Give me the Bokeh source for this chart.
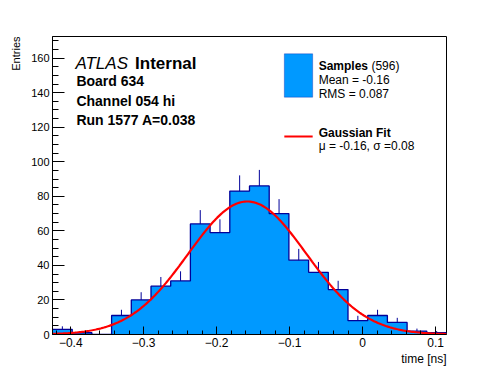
import math
import numpy as np
from bokeh.plotting import figure
from bokeh.models import (Label, BoxAnnotation, FixedTicker, CustomJSTickFormatter,
                          ColumnDataSource, Range1d, Title)
from bokeh.embed import file_html
from bokeh.resources import INLINE

# ---------------- data ----------------
x_low, x_high = -0.425, 0.115
n_bins = 20
counts = [3, 1, 0, 11, 20, 28, 31, 64, 59, 83, 86, 70, 43, 36, 26, 8, 11, 7, 2, 1]
fit_amplitude = 77.0
fit_mu = -0.158
fit_sigma = 0.081
x_ticks = [-0.4, -0.3, -0.2, -0.1, 0.0, 0.1]
y_ticks = [0, 20, 40, 60, 80, 100, 120, 140, 160]
n_entries = 596
mean_txt = "Mean = -0.16"
rms_txt = "RMS = 0.087"
fit_txt = "\u03bc = -0.16, \u03c3 =0.08"
header_lines = ["Board 634", "Channel 054 hi", "Run 1577 A=0.038"]
x_title = "time [ns]"
y_title = "Entries"

# ---------------- derived ----------------
width_bin = (x_high - x_low) / n_bins
edges = [x_low + width_bin * i for i in range(n_bins + 1)]
lefts = edges[:-1]
rights = edges[1:]
centers = [(a + b) / 2 for a, b in zip(lefts, rights)]
err_top = [c + math.sqrt(c) for c in counts]
step_y = counts + [counts[-1]]

xs_fit = np.linspace(x_low, x_high, 300)
ys_fit = fit_amplitude * np.exp(-0.5 * ((xs_fit - fit_mu) / fit_sigma) ** 2)

FILL = "#0099ff"
EDGE = "#000099"
FONT = "Liberation Sans"

p = figure(width=488, height=368, output_backend="svg", toolbar_location=None,
           x_range=Range1d(x_low, x_high), y_range=Range1d(0, 172.5),
           min_border_left=50, min_border_right=42, min_border_top=36,
           min_border_bottom=34)
p.grid.visible = False
p.outline_line_color = "black"
p.outline_line_width = 1
p.background_fill_color = "white"
p.border_fill_color = "white"

src = ColumnDataSource(dict(center=centers, top=counts, etop=err_top))
p.varea_step(x=edges, y1=[0] * len(edges), y2=step_y, step_mode="after",
             fill_color=FILL)
p.step(x=edges, y=step_y, mode="after", line_color=EDGE, line_width=1.3)
p.segment(x0="center", y0="top", x1="center", y1="etop", source=src,
          line_color=EDGE, line_width=1)
p.line(xs_fit, ys_fit, line_color="red", line_width=2.2)

# axes
xa = p.xaxis[0]
xa.ticker = FixedTicker(ticks=x_ticks,
                        minor_ticks=[round(-0.42 + 0.02 * i, 2) for i in range(27)])
xa.formatter = CustomJSTickFormatter(code="""
if (Math.abs(tick) < 1e-9) return "0";
return (tick < 0 ? "\\u2212" : "") + Math.abs(tick).toFixed(1);
""")
xa.major_tick_in = 8
xa.major_tick_out = 0
xa.minor_tick_in = 4
xa.minor_tick_out = 0
xa.major_label_text_font = FONT
xa.major_label_text_font_size = "12px"
xa.major_label_text_color = "black"
xa.major_label_standoff = 3
xa.axis_line_color = "black"

ya = p.yaxis[0]
ya.ticker = FixedTicker(ticks=y_ticks, minor_ticks=list(range(0, 175, 5)))
ya.major_tick_in = 12
ya.major_tick_out = 0
ya.minor_tick_in = 6
ya.minor_tick_out = 0
ya.major_label_text_font = FONT
ya.major_label_text_font_size = "11px"
ya.major_label_text_color = "black"
ya.major_label_standoff = 3
ya.axis_line_color = "black"

# axis titles as side titles aligned to the frame ends
p.add_layout(Title(text=x_title, align="right", text_font=FONT, text_font_size="12px",
                   text_font_style="normal", text_color="black", standoff=0, offset=0),
             "below")
p.add_layout(Title(text=y_title, align="right", text_font=FONT, text_font_size="11px",
                   text_font_style="normal", text_color="black", standoff=14, offset=0),
             "left")

# helpers: page pixel -> data
def dx(px):
    return x_low + (px - 50.0) / 396.0 * (x_high - x_low)

def dy(py):
    return (334.0 - py) / 298.0 * 172.5

def lab(px, py, text, size, style="normal", align="left", angle=0.0):
    p.add_layout(Label(x=dx(px), y=dy(py), text=text, text_font=FONT,
                       text_font_size=size, text_font_style=style,
                       text_align=align, text_baseline="alphabetic",
                       text_color="black", angle=angle))

# header text
lab(73, 62.7, "ATLAS", "17px", style="italic")
lab(133, 62.7, "Internal", "17px", style="bold")
for i, t in enumerate(header_lines):
    lab(74, 80.7 + 19.3 * i, t, "14px", style="bold")

# legend
p.add_layout(BoxAnnotation(left=dx(283), right=dx(311.5), top=dy(53.3), bottom=dy(96.7),
                           fill_color=FILL, fill_alpha=1, line_color=EDGE, line_width=1,
                           level="annotation"))
p.add_layout(BoxAnnotation(left=dx(283), right=dx(311.5), top=dy(135), bottom=dy(137),
                           fill_color="red", fill_alpha=1, line_color=None,
                           level="annotation"))
lab(317.5, 65, "Samples", "12px", style="bold")
lab(370.5, 65, "(%d)" % n_entries, "12px")
lab(317.5, 79.5, mean_txt, "12px")
lab(317.5, 93.5, rms_txt, "12px")
lab(317.5, 132.7, "Gaussian Fit", "12px", style="bold")
lab(317.5, 145.5, fit_txt, "12px")

open("out.html", "w").write(file_html(p, INLINE))
